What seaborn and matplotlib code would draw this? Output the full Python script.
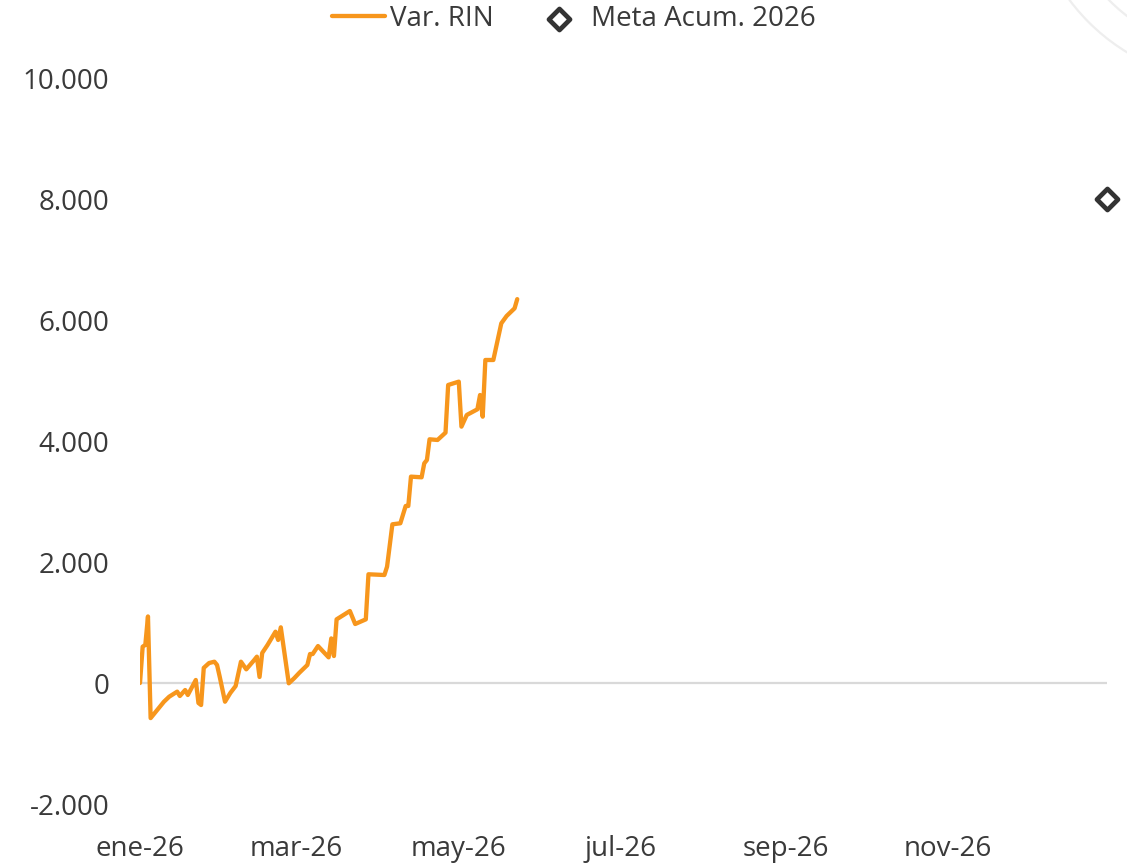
import matplotlib
matplotlib.use("Agg")
import matplotlib.pyplot as plt
from matplotlib.patches import Circle
from matplotlib.transforms import IdentityTransform
from matplotlib.ticker import FuncFormatter
import pandas as pd
import seaborn as sns

# Cumulative change in international reserves (Var. RIN), 2026
rin_dates = [
    "2026-01-01", "2026-01-02", "2026-01-03", "2026-01-04", "2026-01-05",
    "2026-01-10", "2026-01-12", "2026-01-15", "2026-01-16", "2026-01-18",
    "2026-01-19", "2026-01-22", "2026-01-23", "2026-01-24", "2026-01-25",
    "2026-01-27", "2026-01-29", "2026-01-30", "2026-01-31", "2026-02-02",
    "2026-02-04", "2026-02-06", "2026-02-08", "2026-02-10", "2026-02-13",
    "2026-02-14", "2026-02-15", "2026-02-16", "2026-02-18", "2026-02-21",
    "2026-02-22", "2026-02-23", "2026-02-26", "2026-02-28", "2026-03-02",
    "2026-03-05", "2026-03-06", "2026-03-07", "2026-03-09", "2026-03-13",
    "2026-03-14", "2026-03-15", "2026-03-16", "2026-03-21", "2026-03-23",
    "2026-03-27", "2026-03-28", "2026-04-03", "2026-04-04", "2026-04-06",
    "2026-04-09", "2026-04-11", "2026-04-12", "2026-04-13", "2026-04-17",
    "2026-04-18", "2026-04-19", "2026-04-20", "2026-04-23", "2026-04-26",
    "2026-04-27", "2026-05-01", "2026-05-02", "2026-05-04", "2026-05-08",
    "2026-05-09", "2026-05-10", "2026-05-11", "2026-05-14", "2026-05-17",
    "2026-05-19", "2026-05-22", "2026-05-23",
]
rin_values = [
    0, 600, 630, 1100, -580,
    -310, -226, -143, -215, -116,
    -198, 50, -330, -364, 250,
    330, 352, 298, 105, -309,
    -165, -50, 352, 226, 380,
    435, 100, 496, 628, 848,
    711, 920, -5, 77, 170,
    298, 479, 479, 611, 424,
    737, 446, 1052, 1190, 975,
    1052, 1797, 1785, 1923, 2623,
    2640, 2926, 2926, 3411, 3400,
    3631, 3686, 4028, 4017, 4138,
    4926, 4981, 4237, 4430, 4524,
    4760, 4402, 5339, 5339, 5945,
    6066, 6193, 6345,
]

# Year-end accumulation target
meta_dates = ["2026-12-31"]
meta_values = [8000]

tick_dates = ["2026-01-01", "2026-03-01", "2026-05-01",
              "2026-07-01", "2026-09-01", "2026-11-01"]
tick_labels = ["ene-26", "mar-26", "may-26", "jul-26", "sep-26", "nov-26"]
y_ticks = [-2000, 0, 2000, 4000, 6000, 8000, 10000]

rin = pd.DataFrame({"fecha": pd.to_datetime(rin_dates), "valor": rin_values})
meta = pd.DataFrame({"fecha": pd.to_datetime(meta_dates), "valor": meta_values})

sns.set_style("white")
plt.rcParams["font.family"] = ["Open Sans", "DejaVu Sans"]

ORANGE = "#F7961C"
TEXT = "#3A3A3A"

fig = plt.figure(figsize=(11.27, 8.63), dpi=100)
ax = fig.add_axes([140 / 1127, 1 - 804 / 863, (1107 - 140) / 1127, (804 - 78) / 863])

# faint decorative rings in the upper-right corner
for r in (204, 174):
    fig.add_artist(Circle((1233, 863 + 122), r, transform=IdentityTransform(),
                          fill=False, edgecolor="#EEEEEE", linewidth=1.6))

ax.axhline(0, color="#D9D9D9", linewidth=1.6, zorder=1)

sns.lineplot(data=rin, x="fecha", y="valor", ax=ax, color=ORANGE,
             linewidth=3.1, label="Var. RIN", zorder=3,
             solid_joinstyle="round", solid_capstyle="round")
sns.scatterplot(data=meta, x="fecha", y="valor", ax=ax, marker="D", s=115,
                facecolor="white", edgecolor="#333333", linewidth=3.4,
                label="Meta Acum. 2026", zorder=4, clip_on=False)

ax.set_xlim(pd.Timestamp("2026-01-01"), pd.Timestamp("2026-12-31"))
ax.set_ylim(-2000, 10000)
ax.set_xticks(pd.to_datetime(tick_dates))
ax.set_xticklabels(tick_labels)
ax.set_yticks(y_ticks)
ax.yaxis.set_major_formatter(FuncFormatter(lambda v, _: f"{int(v):,}".replace(",", ".")))
ax.tick_params(axis="both", length=0, labelsize=20, colors=TEXT)
ax.tick_params(axis="y", pad=22)
ax.tick_params(axis="x", pad=22)
ax.set_xlabel("")
ax.set_ylabel("")
for s in ax.spines.values():
    s.set_visible(False)
ax.grid(False)

leg = ax.legend(loc="center", bbox_to_anchor=(574 / 1127, 1 - 19 / 863),
                bbox_transform=fig.transFigure, ncol=2, frameon=False,
                fontsize=20, handlelength=1.9, handletextpad=0.2,
                columnspacing=1.4, borderaxespad=0)
for t in leg.get_texts():
    t.set_color(TEXT)

fig.savefig("out.png", dpi=100)
